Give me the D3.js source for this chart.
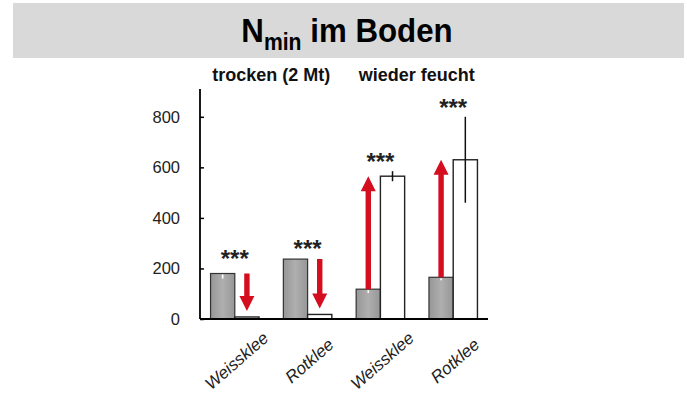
<!DOCTYPE html>
<html>
<head>
<meta charset="utf-8">
<script src="https://cdn.jsdelivr.net/npm/d3@7/dist/d3.min.js"></script>
<style>
  html, body { margin: 0; padding: 0; background: #fff; }
  svg { display: block; font-family: "Liberation Sans", Arial, sans-serif; }
</style>
</head>
<body>
<svg id="chart" width="687" height="394"></svg>
<script>
// Clover variety per bar group
const groups = ["Weissklee", "Rotklee", "Weissklee", "Rotklee"];
// Condition header above each pair of groups
const conditions = ["trocken (2 Mt)", "wieder feucht"];
const conditionOfGroup = [0, 0, 1, 1];
// Nmin before (grey) and after (white) per group, with errors
const beforeValues = [180, 237, 118, 165];
const beforeErrors = [20, 4, 15, 12];
const afterValues = [8, 18, 565, 630];
const afterErrors = [0, 0, 20, 170];
const significance = ["***", "***", "***", "***"];
const yTicks = [0, 200, 400, 600, 800];

const svg = d3.select("#chart");

// Soft shading for the grey bars
const grad = svg.append("defs").append("linearGradient")
  .attr("id", "greyBar").attr("x1", "0").attr("x2", "1").attr("y1", "0").attr("y2", "0");
grad.append("stop").attr("offset", "0%").attr("stop-color", "#969696");
grad.append("stop").attr("offset", "50%").attr("stop-color", "#afafaf");
grad.append("stop").attr("offset", "100%").attr("stop-color", "#969696");

// Title band
svg.append("rect")
  .attr("x", 13).attr("y", 3).attr("width", 671).attr("height", 55)
  .attr("fill", "#d9d9d9");
const title = svg.append("text")
  .attr("transform", "translate(347,42) scale(0.92,1)")
  .attr("text-anchor", "middle")
  .attr("font-size", 34).attr("font-weight", "bold").attr("fill", "#000");
title.append("tspan").text("N");
title.append("tspan").attr("font-size", 23).attr("dy", 8).text("min");
title.append("tspan").attr("dy", -8).text(" im Boden");

const x0 = 200, x1 = 488, yBase = 319, yTop = 89;

const x = d3.scaleBand()
  .domain(d3.range(groups.length))
  .range([x0, x1])
  .paddingInner(0.334)
  .paddingOuter(0.145);
const sub = d3.scaleBand()
  .domain(["before", "after"])
  .range([0, x.bandwidth()]);
const y = d3.scaleLinear().domain([0, 910]).range([yBase, yTop]);

// Grey bars (before)
svg.append("g").selectAll("rect")
  .data(beforeValues)
  .join("rect")
  .attr("x", (d, i) => x(i) + sub("before"))
  .attr("y", d => y(d))
  .attr("width", sub.bandwidth())
  .attr("height", d => y(0) - y(d))
  .attr("fill", "url(#greyBar)")
  .attr("stroke", "#333")
  .attr("stroke-width", 1.2);

// White whiskers inside the grey bars
svg.append("g").selectAll("line")
  .data(beforeValues)
  .join("line")
  .attr("x1", (d, i) => x(i) + sub("before") + sub.bandwidth() / 2)
  .attr("x2", (d, i) => x(i) + sub("before") + sub.bandwidth() / 2)
  .attr("y1", d => y(d) + 1)
  .attr("y2", (d, i) => y(d - beforeErrors[i]))
  .attr("stroke", "#fff").attr("stroke-width", 1.6);

// White bars (after)
svg.append("g").selectAll("rect")
  .data(afterValues)
  .join("rect")
  .attr("x", (d, i) => x(i) + sub("after"))
  .attr("y", d => y(d))
  .attr("width", sub.bandwidth())
  .attr("height", d => y(0) - y(d))
  .attr("fill", "#fff")
  .attr("stroke", "#222")
  .attr("stroke-width", 1.4);

// Error bars on white bars
const errG = svg.append("g");
afterValues.forEach((v, i) => {
  const e = afterErrors[i];
  if (!e) return;
  const cx = x(i) + sub("after") + sub.bandwidth() / 2;
  errG.append("line")
    .attr("x1", cx).attr("x2", cx)
    .attr("y1", y(v + e)).attr("y2", y(v - e))
    .attr("stroke", "#111").attr("stroke-width", 1.5);
});

// Red arrows showing the change from grey to white
const arrowG = svg.append("g");
beforeValues.forEach((b, i) => {
  const a = afterValues[i];
  const up = a > b;
  const cx = up ? x(i) + sub("before") + sub.bandwidth() / 2
                : x(i) + sub("after") + sub.bandwidth() / 2;
  const yStart = y(b);
  const yEnd = up ? y(a) : y(Math.max(a, 0)) - 6;
  const head = 15, hw = 7.5, sw = 2.7;
  const dir = up ? -1 : 1;
  const yNeck = yEnd - dir * head;
  arrowG.append("path")
    .attr("d", `M${cx - sw},${yStart} L${cx - sw},${yNeck} L${cx - hw},${yNeck}
      L${cx},${yEnd} L${cx + hw},${yNeck} L${cx + sw},${yNeck} L${cx + sw},${yStart} Z`)
    .attr("fill", "#d40d1f");
});

// Axes
const axisG = svg.append("g").attr("stroke", "#000");
axisG.append("line")
  .attr("x1", x0).attr("x2", x0).attr("y1", yTop).attr("y2", yBase)
  .attr("stroke-width", 1.8);
axisG.append("line")
  .attr("x1", x0).attr("x2", x1).attr("y1", yBase).attr("y2", yBase)
  .attr("stroke-width", 2.2);

const yAxis = svg.append("g")
  .attr("transform", `translate(${x0},0)`)
  .call(d3.axisLeft(y).tickValues(yTicks).tickSize(-4).tickPadding(20));
yAxis.select(".domain").remove();
yAxis.selectAll(".tick line").attr("stroke", "#000").attr("stroke-width", 1.5);
yAxis.selectAll(".tick text")
  .attr("font-family", "Liberation Sans, Arial, sans-serif")
  .attr("font-size", 16.5).attr("fill", "#222");

// Significance stars
svg.append("g").selectAll("text")
  .data(significance)
  .join("text")
  .attr("x", (d, i) => x(i) + x.bandwidth() / 2)
  .attr("y", (d, i) => Math.min(y(beforeValues[i] + beforeErrors[i]), y(afterValues[i] + afterErrors[i])) - 1)
  .attr("text-anchor", "middle")
  .attr("font-size", 24).attr("font-weight", "bold").attr("fill", "#222")
  .text(d => d);

// Condition headers
conditions.forEach((c, k) => {
  const idx = d3.range(groups.length).filter(i => conditionOfGroup[i] === k);
  const cx = (x(idx[0]) + x(idx[idx.length - 1]) + x.bandwidth()) / 2;
  svg.append("text")
    .attr("x", cx).attr("y", 81)
    .attr("text-anchor", "middle")
    .attr("font-size", 18).attr("font-weight", "bold").attr("fill", "#111")
    .text(c);
});

// Rotated group labels
svg.append("g").selectAll("text")
  .data(groups)
  .join("text")
  .attr("transform", (d, i) => `translate(${x(i) + x.bandwidth() / 2 + 2},${361}) rotate(-41)`)
  .attr("text-anchor", "middle")
  .attr("dominant-baseline", "central")
  .attr("font-size", 17).attr("font-style", "italic").attr("fill", "#222")
  .text(d => d);
</script>
</body>
</html>
